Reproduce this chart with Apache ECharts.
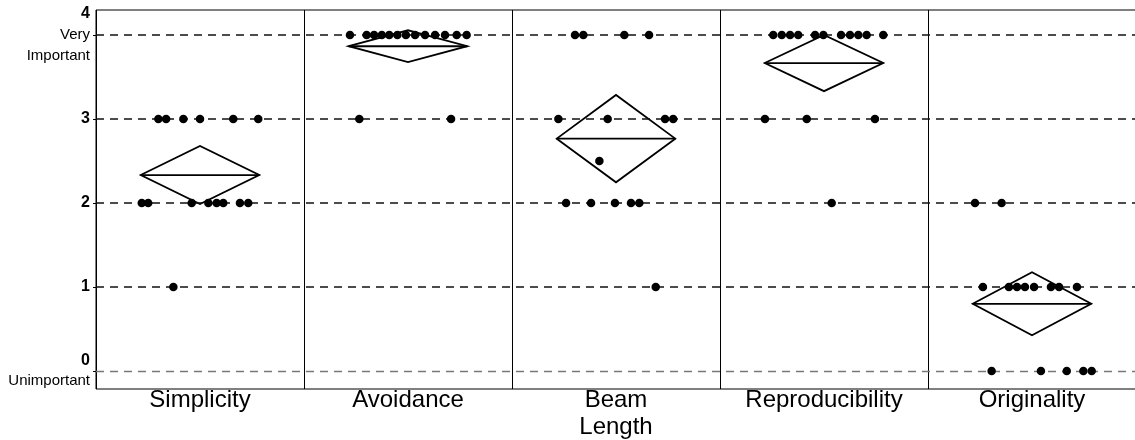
<!DOCTYPE html>
<html>
<head>
<meta charset="utf-8">
<script src="https://cdn.jsdelivr.net/npm/echarts@6/dist/echarts.min.js"></script>
<style>
  html, body { margin: 0; padding: 0; background: #fff; }
  #chart { width: 1135px; height: 440px; }
</style>
</head>
<body>
<div id="chart"></div>
<script>
// Importance ratings (0 = Unimportant, 4 = Very Important) for five design criteria.
const categories = ['Simplicity', 'Avoidance', 'Beam\nLength', 'Reproducibility', 'Originality'];

// Each respondent's rating, with the horizontal jitter used to spread the dots inside its panel.
const simplicityRatings = [3, 3, 3, 3, 3, 3, 2, 2, 2, 2, 2, 2, 2, 2, 1];
const simplicityJitter  = [-0.200, -0.163, -0.080, 0.000, 0.160, 0.280, -0.280, -0.249, -0.040, 0.040, 0.080, 0.112, 0.192, 0.232, -0.128];

const avoidanceRatings = [4, 4, 4, 4, 4, 4, 4, 4, 4, 4, 4, 4, 4, 3, 3];
const avoidanceJitter  = [-0.279, -0.199, -0.163, -0.126, -0.090, -0.051, -0.010, 0.034, 0.082, 0.130, 0.178, 0.234, 0.282, -0.234, 0.207];

const beamLengthRatings = [4, 4, 4, 4, 3, 3, 3, 3, 2.5, 2, 2, 2, 2, 2, 1];
const beamLengthJitter  = [-0.197, -0.157, 0.040, 0.159, -0.277, -0.040, 0.236, 0.275, -0.080, -0.240, -0.120, -0.005, 0.072, 0.112, 0.191];

const reproducibilityRatings = [4, 4, 4, 4, 4, 4, 4, 4, 4, 4, 4, 3, 3, 3, 2];
const reproducibilityJitter  = [-0.244, -0.203, -0.163, -0.124, -0.043, -0.003, 0.082, 0.125, 0.165, 0.205, 0.285, -0.284, -0.083, 0.245, 0.037];

const originalityRatings = [2, 2, 1, 1, 1, 1, 1, 1, 1, 1, 0, 0, 0, 0, 0];
const originalityJitter  = [-0.274, -0.146, -0.236, -0.111, -0.072, -0.034, 0.010, 0.091, 0.130, 0.216, -0.194, 0.043, 0.167, 0.247, 0.287];

// Half-height of each mean diamond (95% confidence interval of the mean).
const ciHalf = [0.345, 0.19, 0.52, 0.335, 0.375];

// Reference lines and y-axis tick labels.
const yTicks = [0, 1, 2, 3, 4];
const yTickLabels = ['0', '1', '2', '3', '4'];
const yScaleLabels = { 0: ['Unimportant'], 4: ['Very', 'Important'] };

const groups = [
  [simplicityRatings, simplicityJitter],
  [avoidanceRatings, avoidanceJitter],
  [beamLengthRatings, beamLengthJitter],
  [reproducibilityRatings, reproducibilityJitter],
  [originalityRatings, originalityJitter]
];

const NARROW = "'Liberation Sans Narrow', 'Arial Narrow', 'Liberation Sans', Arial, sans-serif";
const DIAMOND_HALF_WIDTH = 0.285;

const points = [];
const diamonds = [];
groups.forEach(([ratings, jitter], i) => {
  ratings.forEach((r, k) => points.push([i + 0.5 + jitter[k], r]));
  const mean = ratings.reduce((a, b) => a + b, 0) / ratings.length;
  diamonds.push([i + 0.5, mean, ciHalf[i]]);
});

const chart = echarts.init(document.getElementById('chart'));
chart.setOption({
  animation: false,
  backgroundColor: '#fff',
  grid: {
    left: 96, right: -1, top: 10, bottom: 51,
    outerBoundsMode: 'none',
    containLabel: false,
    show: true, borderColor: '#000', borderWidth: 1, backgroundColor: 'transparent'
  },
  xAxis: [
    {
      type: 'value', min: 0, max: 5, interval: 1,
      axisLine: { show: false }, axisTick: { show: false }, axisLabel: { show: false },
      splitLine: { show: true, lineStyle: { color: '#000', width: 1 } }
    },
    {
      type: 'category', data: categories, position: 'bottom', boundaryGap: true,
      axisLine: { show: false }, axisTick: { show: false }, splitLine: { show: false },
      axisLabel: {
        interval: 0, margin: -2, color: '#000',
        fontFamily: "'Liberation Sans', Arial, sans-serif", fontSize: 24, lineHeight: 27
      }
    }
  ],
  yAxis: {
    type: 'value', min: -0.214, max: 4.298,
    axisLine: { show: false },
    splitLine: { show: false },
    axisTick: { show: true, customValues: yTicks, length: 3, lineStyle: { color: '#000' } },
    axisLabel: {
      customValues: yTicks, margin: 6, color: '#000', align: 'right',
      formatter: (v) => {
        const idx = yTicks.indexOf(v);
        const lines = ['{n|' + yTickLabels[idx] + '}'];
        (yScaleLabels[v] || []).forEach(t => lines.push('{t|' + t + '}'));
        return lines.join('\n');
      },
      rich: {
        n: { fontFamily: NARROW, fontWeight: 'bold', fontSize: 16, lineHeight: 20, color: '#000', align: 'right' },
        t: { fontFamily: NARROW, fontSize: 15, lineHeight: 21, color: '#000', align: 'right' }
      }
    }
  },
  series: [
    {
      type: 'scatter',
      xAxisIndex: 0,
      data: points,
      symbol: 'circle',
      symbolSize: 8.5,
      itemStyle: { color: '#000', opacity: 1 },
      z: 5,
      markLine: {
        silent: true,
        symbol: ['none', 'none'],
        label: { show: false },
        lineStyle: { type: [8, 6], width: 1.5, color: '#111' },
        data: yTicks.map(v => ({
          yAxis: v,
          lineStyle: v === 0 ? { color: '#777', width: 1.3, type: [8, 6] } : { color: '#111', width: 1.5, type: [8, 6] }
        }))
      }
    },
    {
      type: 'custom',
      xAxisIndex: 0,
      data: diamonds,
      z: 4,
      encode: { x: 0, y: 1 },
      renderItem: (params, api) => {
        const cx = api.value(0), mean = api.value(1), ci = api.value(2);
        const left = api.coord([cx - DIAMOND_HALF_WIDTH, mean]);
        const right = api.coord([cx + DIAMOND_HALF_WIDTH, mean]);
        const top = api.coord([cx, mean + ci]);
        const bottom = api.coord([cx, mean - ci]);
        return {
          type: 'group',
          children: [
            { type: 'polygon', shape: { points: [left, top, right, bottom] }, style: { stroke: '#000', lineWidth: 1.8, fill: null } },
            { type: 'line', shape: { x1: left[0], y1: left[1], x2: right[0], y2: right[1] }, style: { stroke: '#000', lineWidth: 1.8 } }
          ]
        };
      }
    }
  ]
});
</script>
</body>
</html>
